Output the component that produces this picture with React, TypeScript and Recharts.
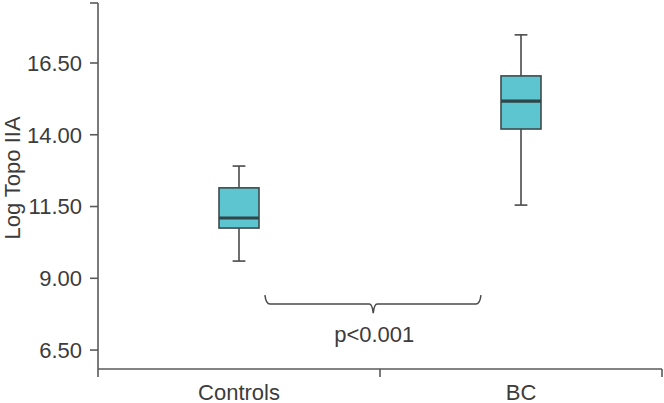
import { Bar, ComposedChart, ReferenceLine, XAxis, YAxis } from "recharts"

const groups = ["Controls", "BC"]
const whiskerLow = [9.6, 11.55]
const quartile1 = [10.75, 14.2]
const medians = [11.1, 15.17]
const quartile3 = [12.15, 16.05]
const whiskerHigh = [12.91, 17.48]

const yTicks = [6.5, 9, 11.5, 14, 16.5]
const yMin = 5.84
const yMax = 18.59
const braceLevel = 8.1
const pLabel = "p<0.001"

const data = groups.map((name, i) => ({
  name,
  box: [quartile1[i], quartile3[i]],
  low: whiskerLow[i],
  q1: quartile1[i],
  med: medians[i],
  q3: quartile3[i],
  high: whiskerHigh[i],
}))

const FONT = "'Liberation Sans', Arial, Helvetica, sans-serif"
const FS = 22
const TEXT = "#3c3c3c"
const AXIS = "#5a5a5a"

function BoxShape(props: any) {
  const { x, y, width, height, payload } = props
  const top = Math.min(y, y + height)
  const h = Math.abs(height)
  const ppu = h / (payload.q3 - payload.q1)
  const cx = x + width / 2
  const yHigh = top - (payload.high - payload.q3) * ppu
  const yLow = top + h + (payload.q1 - payload.low) * ppu
  const yMed = top + (payload.q3 - payload.med) * ppu
  const cap = width * 0.16
  return (
    <g>
      <line x1={cx} x2={cx} y1={yHigh} y2={top} stroke="#4a4a4a" strokeWidth={1.6} />
      <line x1={cx} x2={cx} y1={top + h} y2={yLow} stroke="#4a4a4a" strokeWidth={1.6} />
      <line x1={cx - cap} x2={cx + cap} y1={yHigh} y2={yHigh} stroke="#4a4a4a" strokeWidth={1.6} />
      <line x1={cx - cap} x2={cx + cap} y1={yLow} y2={yLow} stroke="#4a4a4a" strokeWidth={1.6} />
      <rect x={x} y={top} width={width} height={h} fill="#5cc5d0" stroke="#3f4a4c" strokeWidth={1.6} />
      <line x1={x} x2={x + width} y1={yMed} y2={yMed} stroke="#2e4549" strokeWidth={3.2} />
    </g>
  )
}

function CategoryTick(props: any) {
  const { x, y, payload, index, visibleTicksCount } = props
  const half = payload?.offset || 141
  const axisY = y - 8 - 16
  const last = index === visibleTicksCount - 1
  return (
    <g>
      <line x1={x - half} x2={x - half} y1={axisY} y2={axisY + 8} stroke={AXIS} strokeWidth={1.6} />
      {last && <line x1={x + half} x2={x + half} y1={axisY} y2={axisY + 8} stroke={AXIS} strokeWidth={1.6} />}
      <text x={x} y={axisY + 31} textAnchor="middle" fill={TEXT} fontSize={FS} fontFamily={FONT}>
        {payload.value}
      </text>
    </g>
  )
}

function Brace(props: any) {
  const { x1, x2, y1 } = props
  const span = x2 - x1
  const left = x1 + span * 0.092
  const right = x1 + span * 0.858
  const mid = x1 + span * 0.476
  const yTop = y1 - 9
  const yTip = y1 + 9
  const d = [
    `M${left},${yTop}`,
    `Q${left + 1},${y1} ${left + 5},${y1}`,
    `L${mid - 4},${y1}`,
    `Q${mid - 1},${y1} ${mid},${yTip}`,
    `Q${mid + 1},${y1} ${mid + 4},${y1}`,
    `L${right - 5},${y1}`,
    `Q${right - 1},${y1} ${right},${yTop}`,
  ].join(" ")
  return (
    <g>
      <path d={d} fill="none" stroke="#4a4a4a" strokeWidth={1.5} />
      <text x={mid + 1} y={y1 + 38} textAnchor="middle" fill={TEXT} fontSize={FS} fontFamily={FONT}>
        {pLabel}
      </text>
    </g>
  )
}

function YLabel(props: any) {
  const vb = props.viewBox || { x: 0, y: 3, width: 98, height: 366 }
  const cx = vb.x + 20
  const cy = vb.y + vb.height / 2 - 8
  return (
    <text
      x={cx}
      y={cy}
      transform={`rotate(-90 ${cx} ${cy})`}
      textAnchor="middle"
      fill={TEXT}
      fontSize={FS}
      fontFamily={FONT}
    >
      Log Topo IIA
    </text>
  )
}

export default function App() {
  return (
    <div style={{ position: "absolute", left: 0, top: 0, background: "#fff" }}>
      <ComposedChart width={664} height={403} data={data} margin={{ top: 3, right: 2, bottom: 0, left: 0 }}>
        <XAxis
          dataKey="name"
          height={34}
          axisLine={{ stroke: AXIS, strokeWidth: 1.6 }}
          tickLine={false}
          tickSize={8}
          tickMargin={16}
          tick={<CategoryTick />}
          interval={0}
        />
        <YAxis
          type="number"
          width={98}
          domain={[yMin, yMax]}
          allowDataOverflow
          ticks={[...yTicks, yMax]}
          interval={0}
          tickFormatter={(v: number) => (yTicks.includes(v) ? v.toFixed(2) : "")}
          axisLine={{ stroke: AXIS, strokeWidth: 1.6 }}
          tickLine={{ stroke: AXIS, strokeWidth: 1.6 }}
          tickSize={8}
          tickMargin={8}
          tick={{ fill: TEXT, fontSize: FS, fontFamily: FONT }}
          label={<YLabel />}
        />
        <ReferenceLine
          segment={[
            { x: groups[0], y: braceLevel },
            { x: groups[1], y: braceLevel },
          ]}
          shape={<Brace />}
        />
        <Bar dataKey="box" barSize={40} shape={<BoxShape />} isAnimationActive={false} />
      </ComposedChart>
    </div>
  )
}
